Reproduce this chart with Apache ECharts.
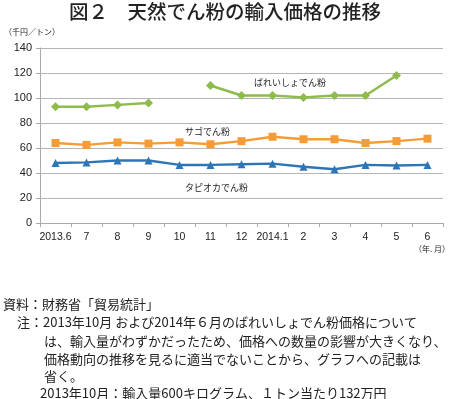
<!DOCTYPE html>
<html>
<head>
<meta charset="utf-8" />
<title>天然でん粉の輸入価格の推移</title>
<script src="https://cdn.jsdelivr.net/npm/echarts@6/dist/echarts.min.js"></script>
<style>
  html, body { margin: 0; padding: 0; background: #fff; }
  #chart { width: 450px; height: 399px; }
</style>
</head>
<body>
<div id="chart"></div>
<script>
// 年.月
var months = ['2013.6', '7', '8', '9', '10', '11', '12', '2014.1', '2', '3', '4', '5', '6'];
// 千円/トン（2013.10 と 2014.6 のばれいしょは記載なし）
var bareisho = [93, 93, 94.5, 96, null, 110, 102, 102, 100.5, 102, 102, 118, null];
var sago = [64, 62.5, 64.5, 63.5, 64.5, 63, 65.5, 69, 67, 67, 64, 65.5, 67.5];
var tapioca = [48, 48.5, 50, 50, 46.5, 46.5, 47, 47.5, 45, 43, 46.5, 46, 46.5];
var yTicks = [0, 20, 40, 60, 80, 100, 120, 140];

var notes = [
    '資料：財務省「貿易統計」',
    '注：2013年10月 および2014年６月のばれいしょでん粉価格について',
    'は、輸入量がわずかだったため、価格への数量の影響が大きくなり、',
    '価格動向の推移を見るに適当でないことから、グラフへの記載は',
    '省く。',
    '2013年10月：輸入量600キログラム、１トン当たり132万円'
];
var noteLeft = [3, 17, 44, 44, 44, 40];
var noteTop = [298, 316, 335, 353, 370, 387];

var jp = '"Noto Sans CJK JP", sans-serif';
var num = '"Liberation Sans Narrow", "Liberation Sans", Arial, sans-serif';

function txt(left, top, text, size, weight) {
    return {
        type: 'text', left: left, top: top,
        style: { text: text, fontSize: size, fontFamily: jp, fontWeight: weight || 'normal', fill: '#222' }
    };
}

function mkSeries(name, data, color, symbol, size) {
    return {
        name: name,
        type: 'line',
        data: data,
        connectNulls: false,
        symbol: symbol,
        symbolSize: size,
        itemStyle: { color: color },
        lineStyle: { color: color, width: 2.5 }
    };
}

var graphics = [
    txt('center', 2, '図２　天然でん粉の輸入価格の推移', 19.5, 500),
    txt(4, 28, '（千円／トン）', 8),
    txt(414, 245, '（年. 月）', 8),
    txt(254, 78, 'ばれいしょでん粉', 9),
    txt(185, 127, 'サゴでん粉', 9),
    txt(185, 183, 'タピオカでん粉', 9)
];
for (var i = 0; i < notes.length; i++) {
    graphics.push(txt(noteLeft[i], noteTop[i], notes[i], 13));
}

var chart = echarts.init(document.getElementById('chart'));
chart.setOption({
    animation: false,
    grid: { left: 40, right: 7, top: 48, bottom: 176 },
    xAxis: {
        type: 'category',
        data: months,
        boundaryGap: true,
        axisLine: { lineStyle: { color: '#aaa', width: 1 } },
        axisTick: { show: true, length: 4, lineStyle: { color: '#aaa' } },
        axisLabel: { color: '#222', fontSize: 10.5, fontFamily: num, margin: 9, interval: 0 }
    },
    yAxis: {
        type: 'value',
        min: yTicks[0],
        max: yTicks[yTicks.length - 1],
        interval: 20,
        axisLine: { show: true, lineStyle: { color: '#aaa', width: 1 } },
        axisTick: { show: true, length: 4, lineStyle: { color: '#aaa' } },
        splitLine: { lineStyle: { color: '#b5b5b5', width: 1 } },
        axisLabel: { color: '#222', fontSize: 11, fontFamily: num, margin: 8 }
    },
    series: [
        mkSeries('ばれいしょでん粉', bareisho, '#8dbb4c', 'diamond', 9),
        mkSeries('サゴでん粉', sago, '#f59c36', 'rect', 8),
        mkSeries('タピオカでん粉', tapioca, '#2e75b6', 'triangle', 8)
    ],
    graphic: graphics
});
</script>
</body>
</html>
